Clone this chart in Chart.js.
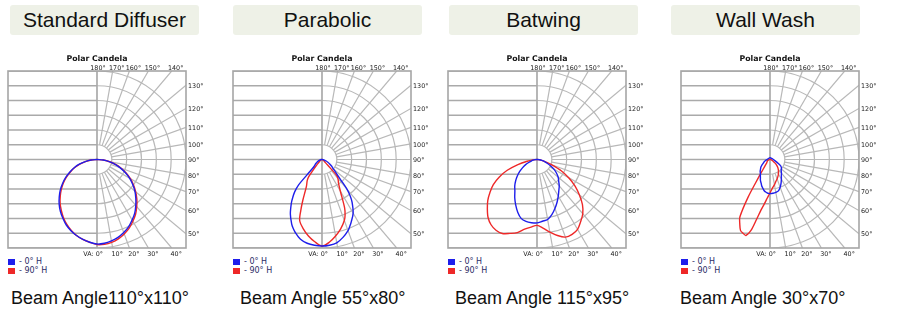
<!DOCTYPE html>
<html>
<head>
<meta charset="utf-8">
<title>Polar Candela</title>
<script src="https://cdn.jsdelivr.net/npm/chart.js@4.4.1/dist/chart.umd.min.js"></script>
<style>
  body { margin: 0; background: #fff; }
  #wrap { position: relative; width: 897px; height: 312px; overflow: hidden; font-family: "Liberation Sans", Arial, sans-serif; }
  .title { position: absolute; top: 5px; width: 189px; height: 30px; background: #eef1e7; border-radius: 3px;
           font-size: 21px; line-height: 30px; text-align: center; color: #111; }
  .beam { position: absolute; top: 288px; font-size: 18px; line-height: 20px; color: #111; white-space: nowrap; }
  .legend { position: absolute; top: 257px; font-family: "DejaVu Sans", sans-serif; font-size: 8px; line-height: 9px; color: #2c2c66; white-space: nowrap; }
  .legend i { display: inline-block; width: 7px; height: 6px; margin-right: 4px; vertical-align: -0.5px; }
  canvas { position: absolute; top: 50px; }
</style>
</head>
<body>
<div id="wrap"></div>
<script>
//////////////////////
// data
//////////////////////

const panelTitles = ['Standard Diffuser', 'Parabolic', 'Batwing', 'Wall Wash'];
const beamLabels = ['Beam Angle110°x110°', 'Beam Angle 55°x80°', 'Beam Angle 115°x95°', 'Beam Angle 30°x70°'];
const seriesLabels = ['- 0° H', '- 90° H'];

// vertical angle from nadir (deg), negative = left half of the plot
const halfAngles = [-90, -85, -80, -75, -70, -65, -60, -55, -50, -45, -40, -35, -30, -25, -20, -15, -10, -5, 0,
  5, 10, 15, 20, 25, 30, 35, 40, 45, 50, 55, 60, 65, 70, 75, 80, 85, 90];
const parabolicAngles = [-90, -85, -80, -75, -70, -65, -60, -55, -50, -47.5, -45, -42.5, -40, -37.5, -35,
  -30, -25, -22.5, -20, -15, -10, -5, 0, 5, 10, 15, 20, 22.5, 25, 30, 35, 37.5, 40, 42.5, 45, 47.5, 50,
  55, 60, 65, 70, 75, 80, 85, 90];
const wallWashAngles = [-180, -90, -85, -80, -75, -70, -65, -60, -55, -50, -45, -40, -35,
  -32.5, -30, -27.5, -25, -22.5, -20, -17.5, -15, -12.5, -10, -7.5, -5, -2.5, 0,
  5, 10, 15, 20, 25, 30, 35, 40, 45, 50, 55, 60, 65, 70, 75, 80, 85, 90, 180];

// relative candela (ring step = 15)
const diffuserH0 = [0, 6, 12, 18.5, 24.5, 30.5, 36.5, 42.5, 48.5, 54, 59.5, 64.5, 69, 73.5, 77, 80, 82.5, 84.5, 86,
  85.5, 84, 82, 79, 75.5, 71, 66.5, 61, 55.5, 50, 44, 38, 31.5, 25, 19, 12.5, 6.5, 0];
const diffuserH90 = [0, 6, 12, 18, 24, 29.5, 35.5, 41.5, 47, 52.5, 58, 63, 68, 72.5, 76.5, 80, 82.5, 84.5, 86.5,
  86.5, 85.5, 83.5, 80.5, 77, 72.5, 68, 62.5, 57, 51, 45, 39, 32.5, 26, 19.5, 13, 6.5, 0];

const parabolicH0 = [0, 0.5, 1.5, 2.5, 3.5, 5, 6, 8, 10, 12, 17, 35, 43, 48.5, 54,
  64, 72.5, 76, 79, 84, 86.5, 87.5, 88, 87.5, 86, 82, 77, 73.5, 70, 63, 53, 47, 39, 28, 22, 18, 15,
  12, 9, 6.5, 4.5, 3, 2, 1, 0];
const parabolicH90 = [0, 0, 0.5, 1, 1, 1.5, 2, 2.5, 3.5, 4.5, 6, 9, 14, 22, 26,
  31.5, 46, 56, 66, 73, 79, 84, 88, 84.5, 79, 73, 66, 61, 54, 37, 29, 27, 25, 22, 8, 4.5, 3,
  2, 1.5, 1, 1, 0.5, 0.5, 0, 0];

const batwingH0 = [0, 2, 4, 6, 9, 13, 17, 21.5, 26, 30.5, 35, 39, 45, 51, 57, 62, 64, 64.5, 64.5,
  63, 62, 58, 53, 48, 43, 38.5, 35, 31, 28, 24, 20, 15, 11, 8, 5, 2.5, 0];
const batwingH90 = [0, 4, 10, 20, 32, 42, 51, 58, 65, 71, 77, 81, 83, 83, 80, 77, 72, 69, 67,
  70, 75, 80, 84, 84, 82, 77, 72, 65, 56, 47, 37, 27, 16, 9, 4, 1.5, 0];

const wallWashH0 = [2, 3, 3.5, 4, 5, 6, 7, 8, 10, 12, 13.5, 15.5, 17,
  18, 19.5, 21, 23, 24.5, 26, 28, 29.5, 31, 32.5, 33.3, 34, 34.5, 34.7,
  34.5, 34, 33, 30, 26.5, 23, 20, 18, 16, 15, 14, 12, 9, 7, 5.5, 4.5, 4, 3.5, 2];
const wallWashH90 = [0, 0, 0.5, 1, 1.5, 2, 2.5, 3, 3.5, 4, 4.5, 6.8, 12.4,
  21, 44.5, 66, 72.3, 78, 79.8, 81, 75, 62, 52, 46, 41, 37, 34,
  29, 26, 23, 21, 19, 17, 15, 13, 11, 8.5, 6, 4, 3, 2, 1.5, 1, 0.5, 0, 0];

const panelAngles = [halfAngles, parabolicAngles, halfAngles, wallWashAngles];
const panelH0 = [diffuserH0, parabolicH0, batwingH0, wallWashH0];
const panelH90 = [diffuserH90, parabolicH90, batwingH90, wallWashH90];

// grid / tick labels
const ringValues = [15, 30, 45, 60, 75, 90];
const rowValues = [-90, -75, -60, -45, -30, -15, 0, 15, 30, 45, 60, 75, 90];
const spokeAngles = [10, 20, 30, 40, 50, 60, 70, 80, 90, 100, 110, 120, 130, 140, 150, 160, 170];
const bottomTicks = [0, 10, 20, 30, 40];
const bottomTickLabels = ['VA: 0°', '10°', '20°', '30°', '40°'];
const rightTicks = [50, 60, 70, 80, 90, 100, 110, 120, 130];
const rightTickLabels = ['50°', '60°', '70°', '80°', '90°', '100°', '110°', '120°', '130°'];
const topTicks = [180, 170, 160, 150, 140];
const topTickLabels = ['180°', '170°', '160°', '150°', '140°'];

//////////////////////
// layout
//////////////////////
const frameLefts = [8, 233, 448, 681];
const titleLefts = [10, 233, 449, 671];
const beamLefts = [11, 240, 455, 680];
const blue = 'rgb(30, 30, 235)';
const red = 'rgb(238, 40, 40)';

function toPoints(angles, values) {
  const pts = [];
  for (let i = 0; i < angles.length; i++) {
    const t = angles[i] * Math.PI / 180;
    pts.push({ x: values[i] * Math.sin(t), y: -values[i] * Math.cos(t) });
  }
  return pts;
}

const polarGrid = {
  id: 'polarGrid',
  beforeDatasetsDraw(chart) {
    const { ctx, chartArea: a, scales: { x, y } } = chart;
    const cx = x.getPixelForValue(0);
    const cy = y.getPixelForValue(0);
    ctx.save();
    ctx.beginPath();
    ctx.rect(a.left, a.top, a.right - a.left, a.bottom - a.top);
    ctx.clip();

    // arcs
    ctx.strokeStyle = '#b8b8b8';
    ctx.lineWidth = 1.2;
    for (const r of ringValues) {
      const rx = x.getPixelForValue(r) - cx;
      const ry = cy - y.getPixelForValue(r);
      ctx.beginPath();
      ctx.ellipse(cx, cy, rx, ry, 0, -Math.PI / 2, Math.PI / 2);
      ctx.stroke();
    }
    // spokes
    for (const deg of spokeAngles) {
      const t = deg * Math.PI / 180;
      const s = Math.sin(t), c = Math.cos(t);
      const far = 90 / Math.max(Math.abs(s), Math.abs(c));
      ctx.beginPath();
      ctx.moveTo(x.getPixelForValue(15 * s), y.getPixelForValue(-15 * c));
      ctx.lineTo(x.getPixelForValue(far * s), y.getPixelForValue(-far * c));
      ctx.stroke();
    }
    // left rows + centre line
    ctx.strokeStyle = '#aaaaaa';
    ctx.lineWidth = 1.7;
    for (const v of rowValues) {
      const py = y.getPixelForValue(v);
      ctx.beginPath();
      ctx.moveTo(a.left, py);
      ctx.lineTo(cx, py);
      ctx.stroke();
    }
    ctx.beginPath();
    ctx.moveTo(cx, a.top);
    ctx.lineTo(cx, a.bottom);
    ctx.stroke();
    ctx.restore();

    ctx.save();
    ctx.strokeStyle = '#a6a6a6';
    ctx.lineWidth = 1.6;
    ctx.strokeRect(a.left, a.top, a.right - a.left, a.bottom - a.top);
    ctx.restore();
  },
  afterDraw(chart) {
    const { ctx, chartArea: a, scales: { x, y } } = chart;
    const cx = x.getPixelForValue(0);
    ctx.save();
    ctx.fillStyle = '#111';
    ctx.font = 'bold 7.8px "DejaVu Sans"';
    ctx.textAlign = 'center';
    ctx.textBaseline = 'middle';
    ctx.fillText('Polar Candela', cx, a.top - 12);

    ctx.fillStyle = '#222';
    ctx.font = '6.4px "DejaVu Sans"';
    for (let i = 0; i < topTicks.length; i++) {
      const t = topTicks[i] * Math.PI / 180;
      const px = x.getPixelForValue(90 * Math.tan(Math.PI - t));
      ctx.textAlign = 'center';
      ctx.fillText(topTickLabels[i], px + (i === 0 ? 1 : 4), a.top - 3);
    }
    for (let i = 0; i < rightTicks.length; i++) {
      const t = rightTicks[i] * Math.PI / 180;
      const py = y.getPixelForValue(-90 * Math.cos(t) / Math.sin(t));
      ctx.textAlign = 'left';
      ctx.fillText(rightTickLabels[i], a.right + 2, py + 1);
    }
    for (let i = 0; i < bottomTicks.length; i++) {
      const t = bottomTicks[i] * Math.PI / 180;
      const px = x.getPixelForValue(90 * Math.tan(t));
      if (i === 0) {
        ctx.textAlign = 'right';
        ctx.fillText(bottomTickLabels[i], px + 6, a.bottom + 6);
      } else {
        ctx.textAlign = 'center';
        ctx.fillText(bottomTickLabels[i], px + 4.5, a.bottom + 6);
      }
    }
    ctx.restore();
  }
};

function renderPanel(i) {
  const wrap = document.getElementById('wrap');

  const title = document.createElement('div');
  title.className = 'title';
  title.style.left = titleLefts[i] + 'px';
  title.textContent = panelTitles[i];
  wrap.appendChild(title);

  const beam = document.createElement('div');
  beam.className = 'beam';
  beam.style.left = beamLefts[i] + 'px';
  beam.textContent = beamLabels[i];
  wrap.appendChild(beam);

  const legend = document.createElement('div');
  legend.className = 'legend';
  legend.style.left = frameLefts[i] + 'px';
  legend.innerHTML = '<div><i style="background:' + blue + '"></i>' + seriesLabels[0] + '</div>' +
    '<div><i style="background:' + red + '"></i>' + seriesLabels[1] + '</div>';
  wrap.appendChild(legend);

  const canvas = document.createElement('canvas');
  canvas.width = 210;
  canvas.height = 212;
  canvas.style.left = (frameLefts[i] - 8) + 'px';
  canvas.style.width = '210px';
  canvas.style.height = '212px';
  wrap.appendChild(canvas);

  new Chart(canvas, {
    type: 'scatter',
    data: {
      datasets: [
        { label: seriesLabels[0], data: toPoints(panelAngles[i], panelH0[i]), showLine: true,
          borderColor: blue, borderWidth: 1.4, pointRadius: 0, tension: 0.3, fill: false },
        { label: seriesLabels[1], data: toPoints(panelAngles[i], panelH90[i]), showLine: true,
          borderColor: red, borderWidth: 1.4, pointRadius: 0, tension: 0.3, fill: false }
      ]
    },
    options: {
      responsive: false,
      animation: false,
      events: [],
      layout: { padding: { left: 8, right: 24, top: 21, bottom: 14 } },
      plugins: { legend: { display: false }, tooltip: { enabled: false }, title: { display: false } },
      scales: {
        x: { type: 'linear', min: -90, max: 90, display: false },
        y: { type: 'linear', min: -90, max: 90, display: false }
      }
    },
    plugins: [polarGrid]
  });
}

for (let i = 0; i < panelTitles.length; i++) {
  renderPanel(i);
}
</script>
</body>
</html>
